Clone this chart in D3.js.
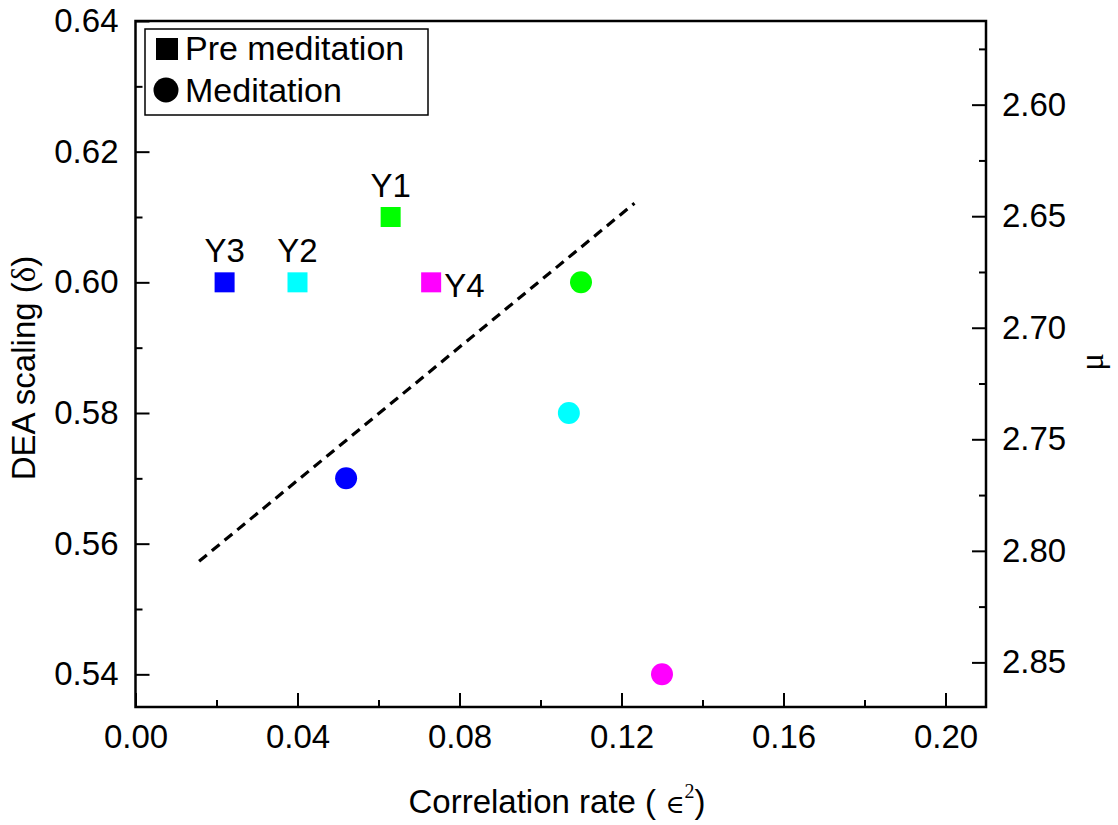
<!DOCTYPE html>
<html><head><meta charset="utf-8">
<script src="https://cdn.jsdelivr.net/npm/d3@7"></script>
<style>
body{margin:0;background:#fff;}
text{font-family:"Liberation Sans",Arial,sans-serif;fill:#000;}
</style></head>
<body>
<svg id="c" width="1118" height="825"></svg>
<script>
// ---- data ----
const groups = ["Y1","Y2","Y3","Y4"];
const groupColors = ["#00ff00","#00ffff","#0000ff","#ff00ff"];
const preX = [0.063, 0.040, 0.022, 0.073];
const preY = [0.610, 0.600, 0.600, 0.600];
const medX = [0.110, 0.107, 0.052, 0.130];
const medY = [0.600, 0.580, 0.570, 0.540];
const labelPlace = ["above","above","above","right"];
const fitX = [0.0157, 0.1232];
const fitY = [0.5573, 0.6121];
const xTicks = [0.00,0.04,0.08,0.12,0.16,0.20];
const yTicks = [0.54,0.56,0.58,0.60,0.62,0.64];
const muTicks = [2.60,2.65,2.70,2.75,2.80,2.85];
const legendNames = ["Pre meditation","Meditation"];

// ---- layout ----
const L=135.5, R=986, T=21, B=707;
const svg = d3.select("#c");
const x = d3.scaleLinear().domain([0,0.21]).range([L,R]);
const y = d3.scaleLinear().domain([0.535,0.64]).range([B,T]);
const yMu = d3.scaleLinear().domain([2.5625,2.87]).range([T,B]);
const FS = 33;

function styleAxis(g){
  g.select(".domain").remove();
  g.selectAll("line").attr("stroke","#000").attr("stroke-width",2);
  g.selectAll("text").style("font-size",FS+"px").attr("fill","#000");
}
// major ticks
svg.append("g").attr("transform",`translate(0,${B})`)
  .call(d3.axisBottom(x).tickValues(xTicks).tickFormat(d3.format(".2f")).tickSizeInner(-14).tickSizeOuter(0).tickPadding(18))
  .call(styleAxis);
svg.append("g").attr("transform",`translate(0,${B})`)
  .call(d3.axisBottom(x).tickValues(d3.range(0.02,0.21,0.04)).tickFormat("").tickSizeInner(-7).tickSizeOuter(0))
  .call(styleAxis);
svg.append("g").attr("transform",`translate(${L},0)`)
  .call(d3.axisLeft(y).tickValues(yTicks).tickFormat(d3.format(".2f")).tickSizeInner(-14).tickSizeOuter(0).tickPadding(17))
  .call(styleAxis);
svg.append("g").attr("transform",`translate(${L},0)`)
  .call(d3.axisLeft(y).tickValues([0.55,0.57,0.59,0.61,0.63]).tickFormat("").tickSizeInner(-7).tickSizeOuter(0))
  .call(styleAxis);
svg.append("g").attr("transform",`translate(${R},0)`)
  .call(d3.axisRight(yMu).tickValues(muTicks).tickFormat(d3.format(".2f")).tickSizeInner(-14).tickSizeOuter(0).tickPadding(16))
  .call(styleAxis);
svg.append("g").attr("transform",`translate(${R},0)`)
  .call(d3.axisRight(yMu).tickValues([2.575,2.625,2.675,2.725,2.775,2.825]).tickFormat("").tickSizeInner(-7).tickSizeOuter(0))
  .call(styleAxis);

// frame
svg.append("rect").attr("x",L).attr("y",T).attr("width",R-L).attr("height",B-T)
  .attr("fill","none").attr("stroke","#000").attr("stroke-width",2.5);

// fit line
svg.append("path")
  .attr("d", d3.line().x(d=>x(d[0])).y(d=>y(d[1]))(fitX.map((v,i)=>[v,fitY[i]])))
  .attr("fill","none").attr("stroke","#000").attr("stroke-width",3.2)
  .attr("stroke-dasharray","10,6.5");

// squares
const sq = 20;
svg.append("g").selectAll("rect").data(groups).join("rect")
  .attr("x",(d,i)=>x(preX[i])-sq/2).attr("y",(d,i)=>y(preY[i])-sq/2)
  .attr("width",sq).attr("height",sq).attr("fill",(d,i)=>groupColors[i]);
// circles
svg.append("g").selectAll("circle").data(groups).join("circle")
  .attr("cx",(d,i)=>x(medX[i])).attr("cy",(d,i)=>y(medY[i])).attr("r",11)
  .attr("fill",(d,i)=>groupColors[i]);
// labels
svg.append("g").selectAll("text").data(groups).join("text")
  .attr("x",(d,i)=>labelPlace[i]==="above" ? x(preX[i]) : x(preX[i])+13)
  .attr("y",(d,i)=>labelPlace[i]==="above" ? y(preY[i])-20 : y(preY[i])+15)
  .attr("text-anchor",(d,i)=>labelPlace[i]==="above"?"middle":"start")
  .style("font-size",FS+"px").text(d=>d);

// legend
const lg = svg.append("g");
lg.append("rect").attr("x",145).attr("y",29).attr("width",283).attr("height",86)
  .attr("fill","#fff").attr("stroke","#000").attr("stroke-width",1.5);
lg.append("rect").attr("x",156).attr("y",38).attr("width",22).attr("height",22).attr("fill","#000");
lg.append("circle").attr("cx",166).attr("cy",90).attr("r",12.5).attr("fill","#000");
lg.selectAll("text.l").data(legendNames).join("text").attr("class","l")
  .attr("x",185).attr("y",(d,i)=>60+i*42).style("font-size","34px").text(d=>d);

// axis titles
const xt = svg.append("text").attr("x",557).attr("y",813).attr("text-anchor","middle").style("font-size",FS+"px");
xt.append("tspan").text("Correlation rate ( ");
xt.append("tspan").style("font-family","'DejaVu Serif',serif").style("font-size","26px").style("font-weight","200").text("\u2208");
xt.append("tspan").style("font-family","'Liberation Serif',serif").style("font-size","20px").attr("dy",-15).text("2");
xt.append("tspan").attr("dy",15).text(")");

const yt = svg.append("text").attr("transform","translate(35,368) rotate(-90)").attr("text-anchor","middle").style("font-size",FS+"px");
yt.append("tspan").text("DEA scaling (");
yt.append("tspan").style("font-family","'Liberation Serif',serif").text("\u03b4");
yt.append("tspan").text(")");

svg.append("text").attr("transform","translate(1103,362) rotate(-90)").attr("text-anchor","middle")
  .style("font-size",FS+"px").style("font-family","'Liberation Serif',serif").text("\u03bc");
</script>
</body></html>
